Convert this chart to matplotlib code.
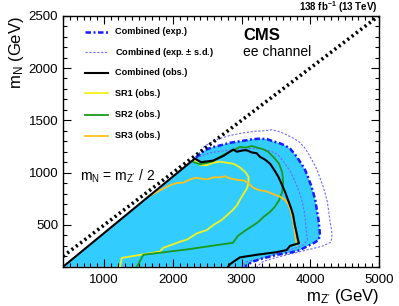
import numpy as np
import matplotlib
matplotlib.use("Agg")
import matplotlib.pyplot as plt

plt.rcParams['font.family'] = ['Liberation Sans', 'DejaVu Sans']
plt.rcParams['mathtext.fontset'] = 'custom'
plt.rcParams['mathtext.rm'] = 'Liberation Sans'
plt.rcParams['mathtext.it'] = 'Liberation Sans'
plt.rcParams['mathtext.bf'] = 'Liberation Sans:bold'
plt.rcParams['mathtext.default'] = 'regular'

# ---------------- data (GeV) ----------------
kin_x = [400, 2335]
kin_y = [100, 1145]

exp_x = [2335, 2465, 2585, 2685, 2830, 2975, 3080, 3165, 3270, 3370, 3455, 3560, 3630, 3705,
         3750, 3805, 3865, 3925, 3965, 4010, 4045, 4075, 4095, 4120, 4135, 4140, 4120, 4045,
         3950, 3850, 3705, 3515, 3310, 3165, 3075, 3050]
exp_y = [1145, 1215, 1245, 1260, 1285, 1300, 1310, 1320, 1325, 1320, 1300, 1280, 1260, 1230,
         1195, 1150, 1090, 1025, 960, 880, 805, 730, 645, 545, 450, 405, 355, 325,
         295, 260, 235, 215, 180, 150, 115, 100]

exp_m1_x = [2380, 2540, 2760, 2975, 3165, 3310, 3430, 3530, 3615, 3705, 3775, 3835, 3880, 3910,
            3930, 3945, 3960, 3900, 3705, 3455, 3225, 3080, 3000]
exp_m1_y = [1150, 1190, 1210, 1225, 1230, 1225, 1205, 1170, 1100, 1015, 920, 825, 730, 635,
            530, 425, 355, 310, 260, 215, 170, 150, 100]

exp_p1_x = [2340, 2465, 2655, 2830, 3020, 3195, 3325, 3440, 3560, 3660, 3765, 3835, 3910, 3965,
            4025, 4085, 4135, 4180, 4215, 4245, 4265, 4285, 4310, 4315, 4300, 4185, 4040, 3850,
            3660, 3455, 3310, 3220]
exp_p1_y = [1150, 1255, 1320, 1355, 1380, 1395, 1400, 1410, 1390, 1360, 1325, 1295, 1245, 1190,
            1120, 1045, 960, 880, 805, 730, 645, 545, 450, 385, 335, 300, 275, 245,
            215, 180, 150, 100]

obs_x = [400, 2320, 2410, 2585, 2735, 2815, 2880, 2930, 3000, 3050, 3095, 3135, 3220, 3270, 3340,
         3415, 3485, 3535, 3580, 3630, 3675, 3720, 3750, 3775, 3800, 3815, 3835, 3705, 3655,
         3510, 3220, 2975, 2930, 2830, 2805]
obs_y = [100, 1135, 1100, 1115, 1160, 1195, 1220, 1200, 1210, 1215, 1210, 1195, 1185, 1150, 1125,
         1085, 1015, 960, 895, 820, 740, 660, 595, 500, 425, 375, 325, 300, 260,
         240, 215, 190, 170, 125, 100]

sr1_x = [1230, 1255, 1810, 1855, 2105, 2205, 2350, 2490, 2590, 2715, 2800, 2875, 2935, 2975,
         3025, 3075, 3100, 3100, 3055, 2975, 2880, 2785, 2685, 2590, 2490, 2395, 2300]
sr1_y = [100, 185, 245, 280, 340, 360, 420, 450, 500, 550, 600, 645, 690, 740,
         795, 845, 900, 960, 1005, 1050, 1085, 1095, 1105, 1095, 1070, 1075, 1120]

sr2_x = [1475, 1570, 2250, 2875, 2945, 3050, 3145, 3245, 3325, 3415, 3485, 3545, 3590, 3605,
         3590, 3545, 3470, 3385, 3310, 3225, 3145, 3075, 2975, 2880, 2735, 2570, 2395, 2280]
sr2_y = [100, 215, 270, 330, 395, 445, 485, 530, 580, 625, 675, 735, 815, 910,
         1005, 1085, 1145, 1200, 1225, 1240, 1255, 1240, 1245, 1215, 1170, 1105, 1080, 1105]

sr3_x = [1640, 1810, 1960, 2055, 2150, 2250, 2320, 2395, 2490, 2590, 2685, 2760, 2830, 2950,
         3035, 3095, 3160, 3240, 3365, 3460, 3560, 3630, 3680, 3710, 3740, 3760, 3775, 3790, 3800]
sr3_y = [770, 830, 880, 900, 905, 935, 950, 945, 935, 955, 955, 965, 945, 930,
         925, 900, 860, 835, 820, 795, 770, 740, 695, 645, 575, 500, 425, 355, 305]

x_range = [400, 5000]
y_range = [100, 2500]

labels = ["Combined (exp.)", "Combined (exp. $\\pm$ s.d.)", "Combined (obs.)",
          "SR1 (obs.)", "SR2 (obs.)", "SR3 (obs.)"]

# ---------------- styles ----------------
c_fill = '#33ccff'
c_exp = '#1a1aff'
c_sd = '#6a6aff'
c_sr1 = '#f2f21a'
c_sr2 = '#199a19'
c_sr3 = '#ffc21a'
ls_exp = (0, (2.2, 1.0, 0.8, 1.0))
ls_sd = (0, (2.0, 1.5))

fig = plt.figure(figsize=(3.99, 3.06), dpi=100)
ax = fig.add_axes([63/399, 1-266.8/306, 316/399, 251.1/306])

ax.fill(np.concatenate([kin_x, exp_x]), np.concatenate([kin_y, exp_y]), color=c_fill, lw=0, zorder=1)
ax.plot(exp_m1_x, exp_m1_y, color=c_sd, lw=0.8, ls=ls_sd, zorder=2)
ax.plot(exp_p1_x, exp_p1_y, color=c_sd, lw=0.8, ls=ls_sd, zorder=2)
ax.plot(exp_x, exp_y, color=c_exp, lw=1.8, ls=ls_exp, zorder=3)
ax.plot(sr1_x, sr1_y, color=c_sr1, lw=1.3, zorder=4)
ax.plot(sr2_x, sr2_y, color=c_sr2, lw=1.3, zorder=4)
ax.plot(sr3_x, sr3_y, color=c_sr3, lw=1.3, zorder=4)
ax.plot(obs_x, obs_y, color='black', lw=1.5, zorder=5)

xd = np.array(x_range, dtype=float)
ax.plot(xd, xd/2, color='black', lw=2.6, ls=(0, (0.6, 0.9)), zorder=6, solid_capstyle='butt')

ax.set_xlim(*x_range)
ax.set_ylim(*y_range)
ax.set_xticks([1000, 2000, 3000, 4000, 5000])
ax.set_yticks([500, 1000, 1500, 2000, 2500])
ax.set_xticks(np.arange(400, 5001, 100), minor=True)
ax.set_yticks(np.arange(100, 2501, 100), minor=True)
ax.tick_params(which='both', direction='in', top=True, right=True, labelsize=9.5, width=0.8)
ax.tick_params(which='major', length=6)
ax.tick_params(which='minor', length=3)
ax.tick_params(axis='x', pad=5)
for s in ax.spines.values():
    s.set_linewidth(1.0)

ax.set_xlabel("$m_{Z'}$ (GeV)", fontsize=12, loc='right', labelpad=1)
ax.set_ylabel("$m_{N}$ (GeV)", fontsize=12, loc='top', labelpad=2)

# legend (manual)
rows = [0.936, 0.854, 0.773, 0.691, 0.605, 0.521]
styles = [(c_exp, 1.8, ls_exp), (c_sd, 0.8, ls_sd), ('black', 1.5, '-'),
          (c_sr1, 1.3, '-'), (c_sr2, 1.3, '-'), (c_sr3, 1.3, '-')]
for yy, lab, (c, lw, ls) in zip(rows, labels, styles):
    ax.plot([0.0696, 0.142], [yy, yy], transform=ax.transAxes, color=c, lw=lw, ls=ls, zorder=7)
    ax.text(0.165, yy, lab, transform=ax.transAxes, fontsize=6.6, fontweight='bold',
            va='center', ha='left', zorder=7)

ax.text(0.57, 0.951, "CMS", transform=ax.transAxes, fontsize=12, fontweight='bold', va='top', ha='left')
ax.text(0.57, 0.883, "ee channel", transform=ax.transAxes, fontsize=10, va='top', ha='left')
ax.text(0.054, 0.343, "$m_{N}$ = $m_{Z'}$ / 2", transform=ax.transAxes, fontsize=10, va='baseline', ha='left')
fig.text(378/399, 1-7.5/306, "138 fb$^{-1}$ (13 TeV)", fontsize=7, fontweight='bold', ha='right', va='center')

fig.savefig("out.png", dpi=100)
